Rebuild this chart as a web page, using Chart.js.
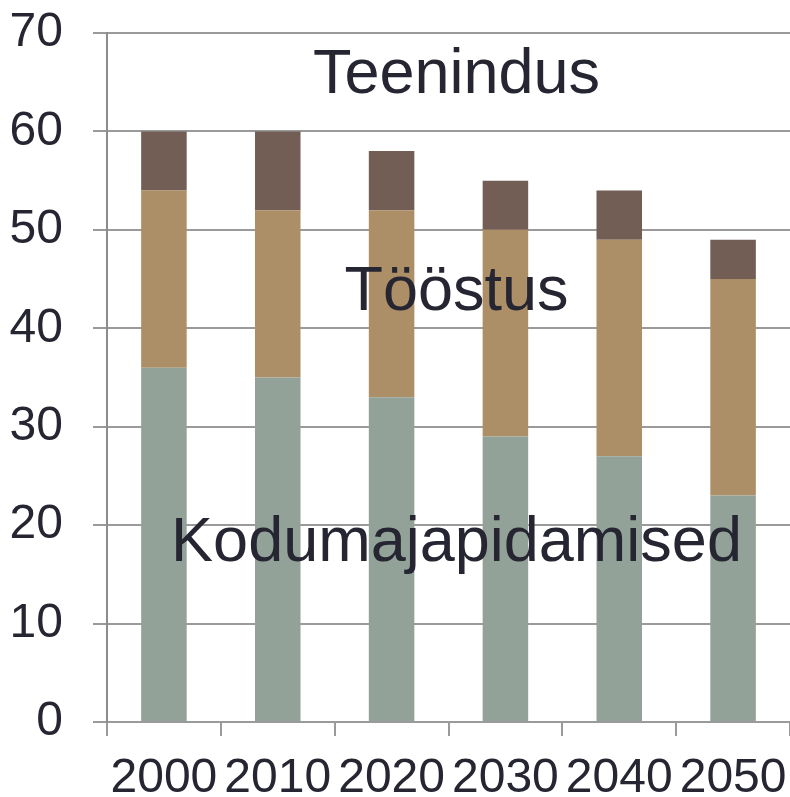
<!DOCTYPE html>
<html>
<head>
<meta charset="utf-8">
<script src="https://cdn.jsdelivr.net/npm/chart.js@4"></script>
<style>
  html, body { margin: 0; padding: 0; background: #fff; }
  #wrap { width: 790px; height: 797px; }
</style>
</head>
<body>
<div id="wrap"><canvas id="chart" width="790" height="797"></canvas></div>
<script>
const years = ['2000', '2010', '2020', '2030', '2040', '2050'];
const kodumajapidamised = [36, 35, 33, 29, 27, 23];
const toostus = [18, 17, 19, 21, 22, 22];
const teenindus = [6, 8, 6, 5, 5, 4];
const yTicks = [0, 10, 20, 30, 40, 50, 60, 70];

// text labels inside the plot, y given in data units
const areaLabels = [
    { text: 'Teenindus', y: 63.9 },
    { text: 'Tööstus', y: 41.9 },
    { text: 'Kodumajapidamised', y: 16.4 }
];

const textColor = '#262632';
const gridColor = '#9a9a9a';
const font = '"Liberation Sans", Arial, sans-serif';

const labelPlugin = {
    id: 'areaLabels',
    afterDatasetsDraw(chart) {
        const ctx = chart.ctx;
        const area = chart.chartArea;
        const yScale = chart.scales.y;
        const cx = (area.left + area.right) / 2 + 8;
        ctx.save();
        ctx.fillStyle = textColor;
        ctx.font = '63px ' + font;
        ctx.textAlign = 'center';
        ctx.textBaseline = 'alphabetic';
        areaLabels.forEach(l => {
            ctx.fillText(l.text, cx, yScale.getPixelForValue(l.y));
        });
        ctx.restore();
    }
};

const ctx = document.getElementById('chart').getContext('2d');
new Chart(ctx, {
    type: 'bar',
    data: {
        labels: years,
        datasets: [
            { label: 'Kodumajapidamised', data: kodumajapidamised, backgroundColor: '#93a299' },
            { label: 'Tööstus', data: toostus, backgroundColor: '#ad8f67' },
            { label: 'Teenindus', data: teenindus, backgroundColor: '#725e55' }
        ]
    },
    options: {
        responsive: false,
        animation: false,
        barPercentage: 0.4,
        categoryPercentage: 1.0,
        layout: { padding: { top: 33, right: 0, left: 0, bottom: 0 } },
        plugins: {
            legend: { display: false },
            tooltip: { enabled: false }
        },
        scales: {
            x: {
                stacked: true,
                afterFit(scale) {
                    scale.height = 75;
                    scale.paddingLeft = 0;
                    scale.paddingRight = 0;
                },
                grid: {
                    drawOnChartArea: false,
                    color: gridColor,
                    lineWidth: 2,
                    tickLength: 14
                },
                border: { color: gridColor, width: 2 },
                ticks: {
                    color: textColor,
                    font: { size: 48, family: font },
                    padding: 14,
                    maxRotation: 0,
                    autoSkip: false
                }
            },
            y: {
                stacked: true,
                min: 0,
                max: 70,
                afterFit(scale) {
                    scale.width = 107;
                    scale.paddingTop = 0;
                    scale.paddingBottom = 0;
                },
                afterBuildTicks(scale) {
                    scale.ticks = yTicks.map(v => ({ value: v }));
                },
                grid: {
                    color: gridColor,
                    lineWidth: 2,
                    tickLength: 14
                },
                border: { color: '#8c8c8c', width: 2 },
                ticks: {
                    color: textColor,
                    font: { size: 48, family: font },
                    padding: 30
                }
            }
        }
    },
    plugins: [labelPlugin]
});
</script>
</body>
</html>
